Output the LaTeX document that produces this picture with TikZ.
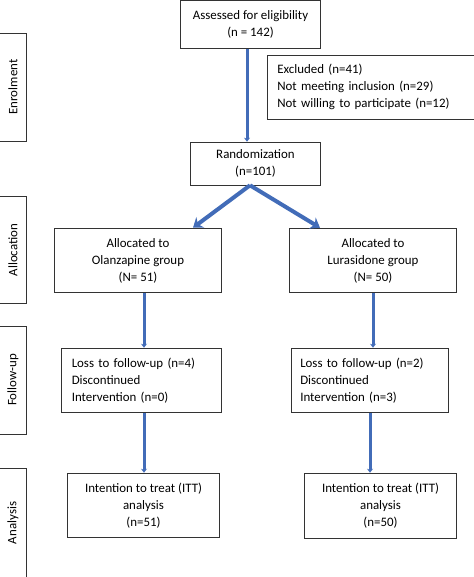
\documentclass[tikz,border=0pt]{standalone}
\usepackage{fontspec}
\setmainfont{Carlito}
\usetikzlibrary{arrows.meta}
\definecolor{arrblue}{RGB}{66,108,184}
\newcommand{\phase}[5]{\draw[box] (-5,#1) rectangle (26,#2); \node[rotate=90] (#4) at (13,#3) {#5};}

\begin{document}
\begin{tikzpicture}[x=1bp,y=-1bp,font=\fontsize{12.9bp}{17bp}\selectfont,
  box/.style={draw=black!80,line width=0.8bp},
  blk/.style={box,rectangle,align=center,inner sep=0pt},
  arr/.style={arrblue,line width=3bp,-{Stealth[length=4bp,width=6bp]}},
  brr/.style={arrblue,line width=4bp,-{Stealth[length=9bp,width=13bp]}}]
  \clip (0,0) rectangle (474,577); \useasboundingbox (0,0) rectangle (474,577);
  \phase{33}{141}{87}{enrol}{Enrolment} \phase{196}{303}{250}{alloc}{Allocation}
  \phase{326}{434}{380}{follow}{Follow-up} \phase{468}{578}{523}{anal}{Analysis}
  \node[blk,minimum width=141,minimum height=48] (assess) at (250.5,24.5) {Assessed for eligibility\\(n = 142)};
  \node[blk,anchor=north west,minimum width=215,minimum height=64,text width=205,align=left,inner xsep=10] (excl) at (267,55)
    {Excluded (n=41)\\Not meeting inclusion (n=29)\\Not willing to participate (n=12)};
  \node[blk,minimum width=131,minimum height=43] (rand) at (255.5,163.5) {Randomization\\(n=101)};
  \node[blk,minimum width=168,minimum height=65] (olan) at (138,260.5) {Allocated to\\Olanzapine group\\(N= 51)};
  \node[blk,minimum width=168,minimum height=65] (luras) at (373,260.5) {Allocated to\\Lurasidone group\\(N= 50)};
  \node[blk,minimum width=153,minimum height=65,text width=140,align=left,inner xsep=10] (lossL) at (141.5,380.5)
    {Loss to follow-up (n=4)\\Discontinued\\Intervention (n=0)};
  \node[blk,minimum width=152,minimum height=65,text width=140,align=left,inner xsep=9] (lossR) at (370,380.5)
    {Loss to follow-up (n=2)\\Discontinued\\Intervention (n=3)};
  \node[blk,minimum width=153,minimum height=65] (ittL) at (143.5,505.5) {Intention to treat (ITT)\\analysis\\(n=51)};
  \node[blk,minimum width=153,minimum height=66] (ittR) at (380.5,506) {Intention to treat (ITT)\\analysis\\(n=50)};
  \draw[arr] ([xshift=-3.5bp]assess.south) -- ([xshift=-3.5bp]assess.south |- rand.north);
  \draw[brr] ([xshift=-5.5bp]rand.south) -- ([xshift=55bp]olan.north);
  \draw[brr] ([xshift=-5.5bp]rand.south) -- ([xshift=-53bp]luras.north);
  \draw[arr] ([xshift=6bp]olan.south) -- ([xshift=6bp]olan.south |- lossL.north);
  \draw[arr] (luras.south) -- (luras.south |- lossR.north);
  \draw[arr] ([xshift=2.5bp]lossL.south) -- ([xshift=2.5bp]lossL.south |- ittL.north);
  \draw[arr] (lossR.south) -- (lossR.south |- ittR.north);
\end{tikzpicture}
\end{document}
